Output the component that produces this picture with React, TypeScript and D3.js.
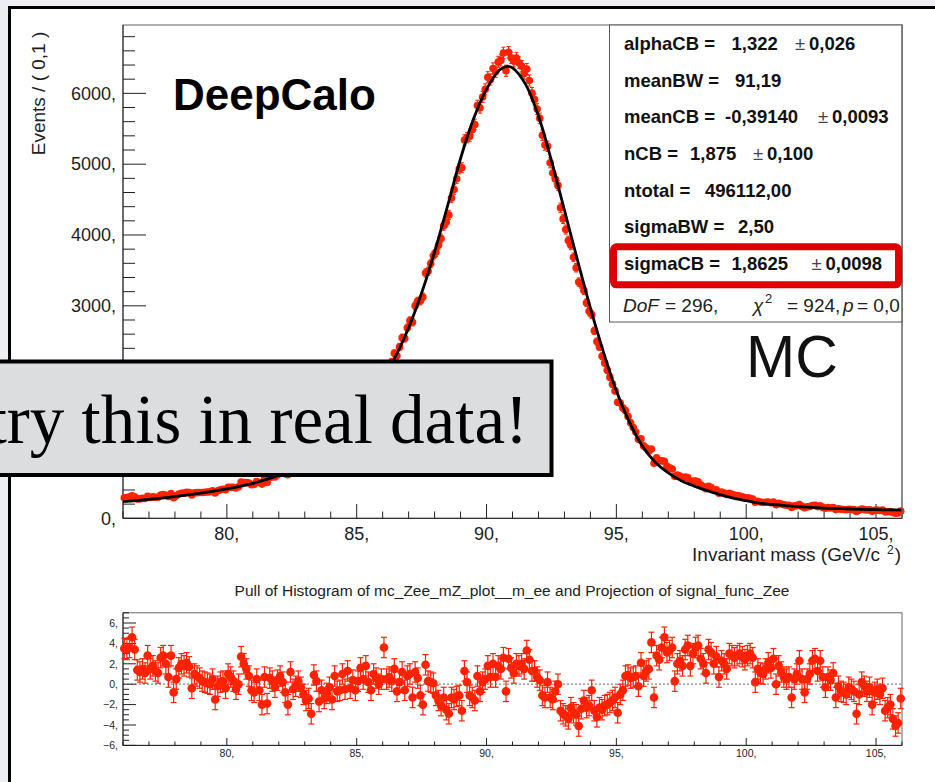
import React from "react";
import * as d3 from "d3";

const SANS = "'Liberation Sans', Arimo, Arial, Helvetica, sans-serif";
const SERIF = "'Liberation Serif', 'Times New Roman', serif";
const RED = "#ff2200";

// ---- axis / tick data ----
const massDomain = [76, 106];
const binStart = 76.05;
const binWidth = 0.1;
const eventsMajorTicks = [0, 1000, 2000, 3000, 4000, 5000, 6000];
// 1000 and 2000 labels sit under the call-out box in the reference
const eventsTickLabels = [0, 3000, 4000, 5000, 6000];
const massMajorTicks = [80, 85, 90, 95, 100, 105];
const pullMajorTicks = [-6, -4, -2, 0, 2, 4, 6];

// ---- histogram counts (Events / 0.1 GeV), 300 bins from 76 to 106 ----
const counts = [
  290, 292, 299, 318, 302, 274, 274, 283, 280, 311,
  294, 303, 298, 298, 328, 336, 326, 308, 349, 291,
  318, 342, 354, 355, 366, 363, 330, 361, 362, 364,
  364, 367, 371, 375, 390, 357, 388, 402, 411, 403,
  438, 439, 438, 429, 446, 512, 506, 504, 497, 475,
  479, 519, 505, 483, 556, 507, 579, 585, 583, 613,
  638, 639, 630, 614, 713, 687, 715, 748, 752, 752,
  757, 786, 765, 901, 907, 873, 936, 941, 986, 1035,
  1029, 1141, 1126, 1165, 1257, 1243, 1350, 1330, 1402, 1406,
  1487, 1587, 1595, 1698, 1683, 1703, 1826, 1866, 1896, 1974,
  2172, 2096, 2167, 2211, 2330, 2296, 2420, 2550, 2540, 2691,
  2791, 2768, 3000, 3066, 3069, 3124, 3464, 3488, 3598, 3708,
  3757, 3854, 3951, 4131, 4180, 4283, 4523, 4642, 4795, 4935,
  4950, 5342, 5375, 5391, 5487, 5561, 5827, 5796, 5949, 6057,
  6227, 6196, 6351, 6304, 6443, 6465, 6570, 6319, 6580, 6503,
  6452, 6499, 6433, 6384, 6279, 6342, 6181, 6005, 5914, 5778,
  5647, 5409, 5270, 5253, 5020, 4874, 4791, 4700, 4385, 4227,
  4077, 3921, 3855, 3686, 3537, 3337, 3305, 3218, 3044, 2922,
  2876, 2647, 2495, 2420, 2289, 2194, 2092, 1993, 1894, 1799,
  1639, 1627, 1556, 1523, 1438, 1348, 1283, 1218, 1115, 1122,
  1022, 991, 950, 979, 776, 853, 811, 811, 806, 734,
  712, 696, 592, 610, 595, 564, 584, 577, 517, 527,
  525, 515, 474, 450, 418, 451, 433, 401, 402, 353,
  372, 356, 336, 352, 338, 325, 320, 315, 302, 290,
  288, 284, 271, 228, 240, 229, 224, 226, 231, 219,
  228, 191, 212, 201, 191, 185, 185, 155, 176, 179,
  193, 168, 149, 163, 167, 181, 182, 165, 176, 154,
  141, 151, 146, 153, 123, 135, 128, 125, 121, 128,
  125, 122, 96, 116, 129, 123, 117, 121, 101, 114,
  116, 110, 116, 91, 94, 97, 81, 73, 76, 101,
];

// ---- pulls, same 300 bins ----
const pulls = [
  3.5, 3.4, 3.6, 4.6, 3.4, 1.4, 1.2, 1.5, 1.1, 2.8,
  1.5, 1.8, 1.3, 1.1, 2.6, 2.8, 2.0, 0.7, 2.8, -0.8,
  0.5, 1.6, 2.0, 1.8, 2.1, 1.7, -0.4, 1.0, 0.8, 0.6,
  0.3, 0.2, 0.1, 0.0, 0.5, -1.5, -0.2, 0.2, 0.3, -0.4,
  1.0, 0.7, 0.3, -0.5, 0.0, 2.7, 2.0, 1.5, 0.8, -0.6,
  -0.8, 0.5, -0.6, -2.0, 0.7, -1.9, 0.6, 0.3, -0.3, 0.4,
  0.8, 0.2, -0.8, -2.0, 1.2, -0.5, -0.2, 0.3, -0.3, -1.0,
  -1.6, -1.4, -2.9, 0.9, 0.3, -1.7, -0.6, -1.4, -0.9, -0.3,
  -1.5, 0.8, -0.7, -0.6, 1.0, -0.5, 1.3, -0.4, 0.4, -0.6,
  0.3, 1.6, 0.5, 1.8, 0.2, -0.6, 1.0, 0.6, 0.0, 0.5,
  3.6, 0.5, 0.7, 0.3, 1.5, -0.7, 0.2, 1.2, -0.6, 0.8,
  1.0, -1.3, 1.2, 0.6, -1.1, -2.0, 1.9, 0.3, 0.2, 0.1,
  -1.1, -1.6, -2.1, -1.3, -2.5, -2.9, -1.3, -1.5, -1.2, -1.1,
  -2.6, 1.3, 0.2, -1.1, -1.3, -1.6, 0.8, -0.7, 0.2, 0.5,
  1.8, 0.7, 2.0, 0.7, 1.8, 1.5, 2.6, -0.7, 2.5, 1.6,
  1.1, 2.0, 1.8, 2.0, 1.5, 3.3, 2.4, 1.3, 1.3, 0.7,
  0.4, -1.1, -1.3, 0.2, -1.3, -1.5, -0.7, 0.0, -2.6, -2.9,
  -3.1, -3.4, -2.3, -2.8, -3.0, -4.1, -2.4, -1.6, -2.3, -2.1,
  -0.6, -2.6, -3.2, -2.3, -2.5, -2.1, -2.0, -1.8, -1.6, -1.3,
  -2.8, -1.0, -0.6, 0.8, 0.9, 0.6, 0.7, 0.8, -0.2, 2.1,
  0.8, 1.3, 1.5, 4.1, -1.3, 2.8, 2.4, 3.6, 4.6, 3.1,
  3.3, 3.6, 0.3, 2.0, 2.3, 1.8, 3.4, 3.8, 1.8, 3.0,
  3.6, 3.8, 2.5, 2.0, 1.1, 3.4, 3.1, 2.0, 2.7, 0.7,
  2.3, 2.0, 1.5, 3.0, 2.8, 2.6, 2.8, 3.0, 2.7, 2.4,
  2.8, 3.0, 2.6, 0.2, 1.5, 1.1, 1.0, 1.5, 2.1, 1.6,
  2.5, 0.0, 1.8, 1.2, 0.7, 0.5, 0.7, -1.3, 0.5, 1.0,
  2.3, 0.5, -0.8, 0.5, 1.0, 2.3, 2.5, 1.3, 2.3, 0.7,
  -0.3, 0.7, 0.4, 1.1, -1.3, -0.2, -0.7, -0.8, -1.0, -0.3,
  -0.5, -0.7, -2.9, -1.0, 0.2, -0.2, -0.7, -0.3, -2.0, -0.8,
  -0.5, -1.0, -0.4, -2.6, -2.3, -2.0, -3.4, -4.1, -3.8, -1.4,
];

// ---- fitted curve ----
const fitMass = [
  76, 76.5, 77, 77.5, 78, 78.5, 79, 79.5, 80, 80.5, 81, 81.5, 82, 82.5, 83, 83.5,
  84, 84.5, 85, 85.5, 86, 86.5, 87, 87.5, 88, 88.5, 89, 89.5, 90, 90.5, 90.8, 91,
  91.5, 92, 92.5, 93, 93.5, 94, 94.5, 95, 95.5, 96, 96.5, 97, 97.5, 98, 98.5, 99,
  99.5, 100, 100.5, 101, 101.5, 102, 102.5, 103, 103.5, 104, 104.5, 105, 105.5, 106,
];
const fitEvents = [
  235, 250, 267, 286, 307, 330, 355, 383, 414, 450, 492, 545, 610, 690, 790, 910,
  1060, 1240, 1450, 1700, 1980, 2290, 2690, 3180, 3760, 4410, 5080, 5640, 6060, 6330, 6380, 6360,
  6130, 5680, 5050, 4350, 3650, 2970, 2350, 1800, 1360, 1020, 790, 640, 530, 455, 390, 335,
  285, 248, 215, 195, 180, 165, 154, 145, 138, 131, 126, 122, 119, 116,
];

// ---- fit parameter box ----
const paramNames = ["alphaCB", "meanBW", "meanCB", "nCB", "ntotal", "sigmaBW", "sigmaCB"];
const paramValues = ["1,322", "91,19", "-0,39140", "1,875", "496112,00", "2,50", "1,8625"];
const paramErrors = ["0,026", "", "0,0093", "0,100", "", "", "0,0098"];
const valueX = [731.5, 735, 725, 690, 705, 738, 731.5];
const pmX = [795, 0, 818, 753, 0, 0, 811.5];

export default function App() {
  const W = 935;
  const H = 782;
  const x = d3.scaleLinear().domain(massDomain).range([123, 902]);
  const y = d3.scaleLinear().domain([0, 6965]).range([518.3, 25]);
  const yp = d3.scaleLinear().domain([-6, 7]).range([745.4, 612.8]);

  const binMass = counts.map((_, i) => binStart + binWidth * i);
  const eventsMinor = d3.range(0, 6801, 200);
  const massMinor = d3.range(76, 106.01, 1);
  const pullMinor = d3.range(-6, 7.01, 0.5);

  const fitLine = d3
    .line<number>()
    .x((_, i) => x(fitMass[i]))
    .y((d) => y(d))
    .curve(d3.curveCatmullRom.alpha(0.5));

  const fmtInt = d3.format("d");
  const tickText = "#1e1e1e";

  return (
    <svg
      width={W}
      height={H}
      viewBox={`0 0 ${W} ${H}`}
      style={{ position: "absolute", left: 0, top: 0, display: "block" }}
    >
      {/* slide background + frame */}
      <rect x={0} y={0} width={W} height={H} fill="#eceef2" />
      <rect x={9} y={7} width={W} height={H} fill="#ffffff" />
      <path d={`M9.5,${H} V7.5 H${W}`} fill="none" stroke="#000" strokeWidth={3} />

      {/* ===== main pad ===== */}
      <rect x={123} y={25} width={779} height={493.3} fill="none" stroke="#666" strokeWidth={1} />

      {/* y axis */}
      <line x1={123} x2={123} y1={25} y2={518.3} stroke="#222" strokeWidth={1} />
      {eventsMinor.map((v) => (
        <line
          key={`ym${v}`}
          x1={123}
          x2={eventsMajorTicks.includes(v) ? 146 : 135}
          y1={y(v)}
          y2={y(v)}
          stroke="#222"
          strokeWidth={1}
        />
      ))}
      {eventsTickLabels.map((v) => (
        <text key={`yl${v}`} x={116} y={y(v) + 6.3} textAnchor="end" fontFamily={SANS} fontSize={18} fill={tickText}>
          {`${v},`}
        </text>
      ))}
      <text
        transform={`translate(45,93.5) rotate(-90)`}
        textAnchor="middle"
        fontFamily={SANS}
        fontSize={19}
        fill={tickText}
      >
        Events / ( 0,1 )
      </text>

      {/* x axis */}
      <line x1={123} x2={902} y1={518.3} y2={518.3} stroke="#222" strokeWidth={1} />
      {massMinor.map((v) => (
        <line key={`xm${v}`} x1={x(v)} x2={x(v)} y1={518.3} y2={v % 5 === 0 ? 504 : 511.5} stroke="#222" strokeWidth={1} />
      ))}
      {massMajorTicks.map((v) => (
        <text key={`xl${v}`} x={x(v)} y={540} textAnchor="middle" fontFamily={SANS} fontSize={18} fill={tickText}>
          {`${v},`}
        </text>
      ))}
      <text x={901} y={561} textAnchor="end" fontFamily={SANS} fontSize={19} fill={tickText}>
        Invariant mass (GeV/c
        <tspan dx={7} dy={-7} fontSize={12}>2</tspan>
        <tspan dx={1} dy={7}>)</tspan>
      </text>

      {/* data points */}
      {counts.map((c, i) => {
        const cx = x(binMass[i]);
        const e = Math.sqrt(c);
        return (
          <g key={`d${i}`}>
            <line x1={cx} x2={cx} y1={y(c + e)} y2={y(c - e)} stroke={RED} strokeWidth={1.2} />
            <line x1={cx - 2} x2={cx + 2} y1={y(c + e)} y2={y(c + e)} stroke={RED} strokeWidth={1} />
            <line x1={cx - 2} x2={cx + 2} y1={y(c - e)} y2={y(c - e)} stroke={RED} strokeWidth={1} />
            <circle cx={cx} cy={y(c)} r={3.8} fill={RED} />
          </g>
        );
      })}

      {/* fit curve */}
      <path d={fitLine(fitEvents) || ""} fill="none" stroke="#000" strokeWidth={2.8} strokeLinejoin="round" />

      {/* DeepCalo label */}
      <text x={173} y={110} fontFamily={SANS} fontWeight="bold" fontSize={44} fill="#000">
        DeepCalo
      </text>

      {/* parameter box */}
      <rect x={609} y={25} width={293} height={297} fill="#fff" />
      {paramNames.map((name, i) => {
        const by = 50 + i * 36.67;
        return (
          <g key={`p${i}`} fontFamily={SANS} fontSize={18.5} fill="#111">
            <text x={624} y={by} fontWeight="bold">{`${name} =`}</text>
            <text x={valueX[i]} y={by} fontWeight="bold">{paramValues[i]}</text>
            {paramErrors[i] !== "" && (
              <>
                <text x={pmX[i]} y={by} fill="#444">±</text>
                <text x={pmX[i] + 14} y={by} fontWeight="bold">{paramErrors[i]}</text>
              </>
            )}
          </g>
        );
      })}
      <g fontFamily={SANS} fontSize={19} fill="#222">
        <text x={623} y={311.7} fontStyle="italic">DoF</text>
        <text x={665} y={311.7}>= 296,</text>
        <text x={753} y={311.7} fontStyle="italic">χ</text>
        <text x={765} y={303} fontSize={13}>2</text>
        <text x={787} y={311.7}>= 924,</text>
        <text x={843} y={311.7} fontStyle="italic">p</text>
        <text x={857} y={311.7}>= 0,0</text>
      </g>
      <rect x={609.5} y={25} width={292.5} height={297} fill="none" stroke="#555" strokeWidth={1} />
      <line x1={902} x2={902} y1={25} y2={518.3} stroke="#666" strokeWidth={1} />
      <rect x={613.5} y={246.8} width={285} height={38} rx={3} fill="none" stroke="#e00000" strokeWidth={7} />

      {/* MC label */}
      <text x={746} y={377} fontFamily={SANS} fontSize={59} fill="#111">
        MC
      </text>

      {/* ===== pull pad ===== */}
      <text x={512} y={596} textAnchor="middle" fontFamily={SANS} fontSize={15.5} fill="#222">
        Pull of Histogram of mc_Zee_mZ_plot__m_ee and Projection of signal_func_Zee
      </text>
      <rect x={123} y={612.8} width={779} height={132.6} fill="none" stroke="#666" strokeWidth={1} />
      <line x1={123} x2={902} y1={yp(0)} y2={yp(0)} stroke="#888" strokeWidth={1.2} strokeDasharray="2,2" />
      <line x1={123} x2={123} y1={612.8} y2={745.4} stroke="#222" strokeWidth={1} />
      <line x1={123} x2={902} y1={745.4} y2={745.4} stroke="#222" strokeWidth={1} />
      {pullMinor.map((v) => (
        <line
          key={`pm${v}`}
          x1={123}
          x2={pullMajorTicks.includes(v) ? 136 : 129}
          y1={yp(v)}
          y2={yp(v)}
          stroke="#222"
          strokeWidth={1}
        />
      ))}
      {pullMajorTicks.map((v) => (
        <text key={`pl${v}`} x={118} y={yp(v) + 3.8} textAnchor="end" fontFamily={SANS} fontSize={10.5} fill={tickText}>
          {`${fmtInt(v)},`}
        </text>
      ))}
      {massMinor.map((v) => (
        <line key={`pxm${v}`} x1={x(v)} x2={x(v)} y1={745.4} y2={v % 5 === 0 ? 738 : 741.5} stroke="#222" strokeWidth={1} />
      ))}
      {massMajorTicks.map((v) => (
        <text key={`pxl${v}`} x={x(v)} y={757} textAnchor="middle" fontFamily={SANS} fontSize={10.5} fill={tickText}>
          {`${v},`}
        </text>
      ))}
      {pulls.map((p, i) => {
        const cx = x(binMass[i]);
        return (
          <g key={`pp${i}`}>
            <line x1={cx} x2={cx} y1={yp(p + 1)} y2={yp(p - 1)} stroke={RED} strokeWidth={1.2} />
            <line x1={cx - 3} x2={cx + 3} y1={yp(p + 1)} y2={yp(p + 1)} stroke={RED} strokeWidth={1.2} />
            <line x1={cx - 3} x2={cx + 3} y1={yp(p - 1)} y2={yp(p - 1)} stroke={RED} strokeWidth={1.2} />
            <circle cx={cx} cy={yp(p)} r={4.3} fill={RED} />
          </g>
        );
      })}

      {/* ===== overlay call-out box ===== */}
      <rect x={-10} y={361.5} width={561.5} height={113.5} fill="#dcdddf" stroke="#000" strokeWidth={4} />
      <text x={528} y={443} textAnchor="end" fontFamily={SERIF} fontSize={69} fill="#000">
        try this in real data!
      </text>
    </svg>
  );
}
